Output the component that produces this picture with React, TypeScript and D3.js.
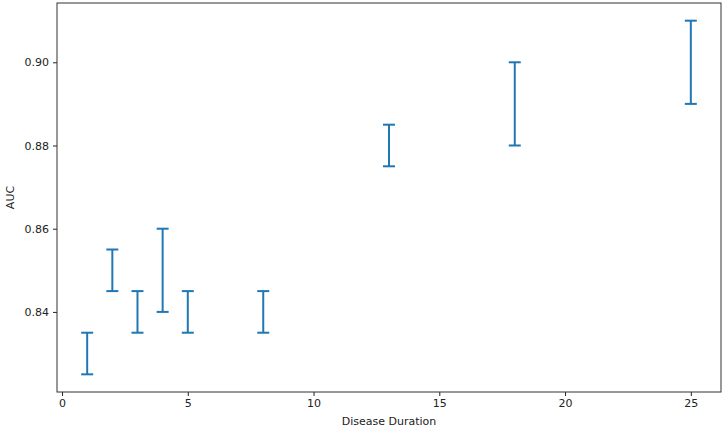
import React, { useEffect, useRef } from "react";
import * as d3 from "d3";

const durations = [1, 2, 3, 4, 5, 8, 13, 18, 25];
const aucLow = [0.825, 0.845, 0.835, 0.84, 0.835, 0.835, 0.875, 0.88, 0.89];
const aucHigh = [0.835, 0.855, 0.845, 0.86, 0.845, 0.845, 0.885, 0.9, 0.91];
const xTicks = [0, 5, 10, 15, 20, 25];
const yTicks = [0.84, 0.86, 0.88, 0.9];

const App: React.FC = () => {
  const svgRef = useRef<SVGSVGElement | null>(null);

  useEffect(() => {
    const width = 724;
    const height = 428;
    const margin = { top: 3, right: 3, bottom: 36, left: 57 };

    d3.select(svgRef.current).selectAll("*").remove();
    const svg = d3.select(svgRef.current).attr("width", width).attr("height", height);

    const xScale = d3.scaleLinear().domain([-0.2, 26.2]).range([margin.left, width - margin.right]);
    const yScale = d3
      .scaleLinear()
      .domain([0.82075, 0.91425])
      .range([height - margin.bottom, margin.top]);

    const font = "DejaVu Sans, sans-serif";

    // error bars
    const color = "#1f77b4";
    const cap = 6;
    const bars = svg
      .append("g")
      .selectAll("g")
      .data(durations.map((d, i) => ({ x: d, lo: aucLow[i], hi: aucHigh[i] })))
      .join("g")
      .attr("stroke", color)
      .attr("stroke-width", 2);
    bars
      .append("line")
      .attr("x1", (d) => xScale(d.x))
      .attr("x2", (d) => xScale(d.x))
      .attr("y1", (d) => yScale(d.lo))
      .attr("y2", (d) => yScale(d.hi));
    bars
      .append("line")
      .attr("x1", (d) => xScale(d.x) - cap)
      .attr("x2", (d) => xScale(d.x) + cap)
      .attr("y1", (d) => yScale(d.lo))
      .attr("y2", (d) => yScale(d.lo));
    bars
      .append("line")
      .attr("x1", (d) => xScale(d.x) - cap)
      .attr("x2", (d) => xScale(d.x) + cap)
      .attr("y1", (d) => yScale(d.hi))
      .attr("y2", (d) => yScale(d.hi));

    // axes
    const xAxis = svg
      .append("g")
      .attr("transform", `translate(0,${height - margin.bottom})`)
      .call(d3.axisBottom(xScale).tickValues(xTicks).tickSize(4).tickPadding(3).tickFormat(d3.format("d")));
    const yAxis = svg
      .append("g")
      .attr("transform", `translate(${margin.left},0)`)
      .call(d3.axisLeft(yScale).tickValues(yTicks).tickSize(4).tickPadding(4).tickFormat(d3.format(".2f")));
    [xAxis, yAxis].forEach((a) => {
      a.select(".domain").remove();
      a.selectAll("text").attr("font-family", font).attr("font-size", 11).attr("fill", "#222");
      a.selectAll("line").attr("stroke", "#222");
    });

    // frame
    svg
      .append("rect")
      .attr("x", margin.left)
      .attr("y", margin.top)
      .attr("width", width - margin.left - margin.right)
      .attr("height", height - margin.top - margin.bottom)
      .attr("fill", "none")
      .attr("stroke", "#333")
      .attr("stroke-width", 1);

    svg
      .append("text")
      .attr("x", (margin.left + width - margin.right) / 2)
      .attr("y", height - 3)
      .attr("text-anchor", "middle")
      .attr("font-family", font)
      .attr("font-size", 11)
      .attr("fill", "#222")
      .text("Disease Duration");

    svg
      .append("text")
      .attr("transform", `translate(14,${(margin.top + height - margin.bottom) / 2}) rotate(-90)`)
      .attr("text-anchor", "middle")
      .attr("font-family", font)
      .attr("font-size", 11)
      .attr("fill", "#222")
      .text("AUC");
  }, []);

  return <svg ref={svgRef} style={{ position: "absolute", left: 0, top: 0 }}></svg>;
};

export default App;
